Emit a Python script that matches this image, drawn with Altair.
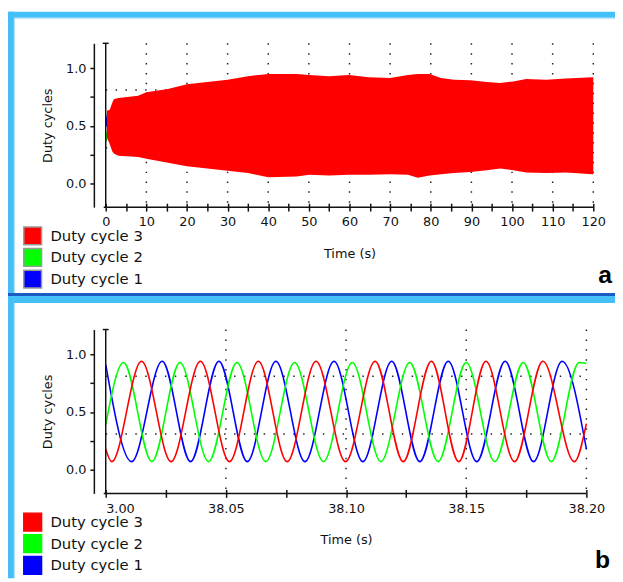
import altair as alt
import pandas as pd

# ------------------------------------------------------------------ data
SERIES = ["Duty cycle 3", "Duty cycle 2", "Duty cycle 1"]
SERIES_COLORS = ["#ff0000", "#00ff00", "#0000ff"]

# panel a: envelope of the (dense) duty-cycle oscillation, 0-120 s
a_t = [0.3, 1.0, 1.6, 2.0, 3.1, 8, 10, 15.3, 20, 25, 30, 35, 40, 47,
       50.1, 55, 59.8, 64.7, 70, 74.4, 76.8, 79.7, 82.5, 85.7,
       89.8, 93.8, 97.1, 100.3, 103.5, 108.4, 113.3, 119.8, 120]
a_hi = [0.63, 0.64, 0.70, 0.73, 0.74, 0.76, 0.79, 0.82, 0.86, 0.88, 0.90, 0.93, 0.95, 0.95,
        0.94, 0.93, 0.94, 0.92, 0.915, 0.94, 0.95, 0.95, 0.915, 0.90,
        0.895, 0.88, 0.87, 0.885, 0.905, 0.90, 0.91, 0.92, 0.92]
a_lo = [0.40, 0.34, 0.28, 0.26, 0.24, 0.23, 0.215, 0.18, 0.15, 0.13, 0.11, 0.09, 0.055, 0.06,
        0.075, 0.07, 0.075, 0.075, 0.08, 0.075, 0.05, 0.07, 0.08, 0.09,
        0.10, 0.115, 0.13, 0.115, 0.095, 0.09, 0.095, 0.08, 0.08]
a_blue_t = [0.0, 0.3, 0.7]
a_blue_hi = [0.56, 0.60, 0.63]
a_blue_lo = [0.48, 0.50, 0.54]
a_green_t = [0.0, 0.2, 0.45]
a_green_hi = [0.45, 0.45, 0.43]
a_green_lo = [0.37, 0.36, 0.38]

# panel b: zoom 38.00-38.20 s (extremes)
b_red_t = [38.0, 38.0025, 38.0149, 38.0272, 38.0394, 38.0515, 38.0635, 38.0755, 38.0875,
           38.0998, 38.1121, 38.1238, 38.1355, 38.1469, 38.1582, 38.1701, 38.1819, 38.1950, 38.2]
b_red_v = [0.18, 0.07, 0.94, 0.07, 0.94, 0.07, 0.94, 0.07, 0.94,
           0.07, 0.94, 0.07, 0.94, 0.07, 0.94, 0.07, 0.94, 0.07, 0.40]
b_green_t = [38.0, 38.0074, 38.0192, 38.0309, 38.0428, 38.0546, 38.0666, 38.0786, 38.0906,
             38.1026, 38.1145, 38.1265, 38.1383, 38.1500, 38.1619, 38.1737, 38.1854, 38.1970, 38.2]
b_green_v = [0.39, 0.93, 0.07, 0.93, 0.07, 0.93, 0.07, 0.93, 0.07,
             0.93, 0.07, 0.93, 0.07, 0.93, 0.07, 0.93, 0.07, 0.93, 0.92]
b_blue_t = [38.0, 38.0108, 38.0235, 38.0353, 38.0471, 38.0589, 38.0708, 38.0829, 38.0950,
            38.1070, 38.1190, 38.1307, 38.1425, 38.1544, 38.1662, 38.1780, 38.1899, 38.2]
b_blue_v = [0.91, 0.07, 0.94, 0.07, 0.94, 0.07, 0.94, 0.07, 0.94,
            0.07, 0.94, 0.07, 0.94, 0.07, 0.94, 0.07, 0.94, 0.18]

# axes / ticks
a_xticks = [0, 5, 10, 15, 20, 25, 30, 35, 40, 45, 50, 55, 60, 65, 70, 75, 80, 85, 90,
            95, 100, 105, 110, 115, 120]
a_xlabel_vals = [0, 10, 20, 30, 40, 50, 60, 70, 80, 90, 100, 110, 120]
a_xlabels = ["0", "10", "20", "30", "40", "50", "60", "70", "80", "90", "100", "110", "120"]
a_grid_x = [10, 20, 30, 40, 50, 60, 70, 80, 90, 100, 110, 120]

b_xticks = [38.0, 38.025, 38.05, 38.075, 38.1, 38.125, 38.15, 38.175, 38.2]
b_xlabel_vals = [38.0, 38.05, 38.1, 38.15, 38.2]
b_xlabels = ["3.00", "38.05", "38.10", "38.15", "38.20"]
b_grid_x = [38.05, 38.1, 38.15, 38.2]

y_ticks = [0.0, 0.25, 0.5, 0.75, 1.0]
y_label_vals = [0.0, 0.5, 1.0]
y_labels = ["0.0", "0.5", "1.0"]
grid_y = [0.81, 0.31]

# ------------------------------------------------------------------ styling
FONT = "DejaVu Sans"
INK = "#111111"
DOT = "#222222"
LIGHT = "#45BFF8"
PALE = "#A8DEFA"
DARK = "#1A5CC4"
H = 166
Y_DOMAIN = [-0.205, 1.215]


def label_expr(vals, labs):
    expr = "''"
    for v, l in reversed(list(zip(vals, labs))):
        expr = f"abs(datum.value - ({v})) < 1e-6 ? '{l}' : ({expr})"
    return expr


one = pd.DataFrame({"k": [0]})
cscale = alt.Scale(domain=SERIES, range=SERIES_COLORS)


def legend_layer(X, Y):
    empty = pd.DataFrame({"series": pd.Series([], dtype=str),
                          "t": pd.Series([], dtype=float),
                          "v": pd.Series([], dtype=float)})
    leg = alt.Legend(orient="none", legendX=-84, legendY=185, title=None,
                     symbolType="square", symbolSize=324,
                     symbolStrokeColor="#9a9a9a", symbolStrokeWidth=1.5,
                     symbolOpacity=1, labelFont=FONT, labelFontSize=15,
                     labelColor=INK, labelOffset=8, rowPadding=-3.5, padding=0)
    return alt.Chart(empty).mark_square(filled=True, opacity=1,
                                        stroke="#9a9a9a", strokeWidth=1.5).encode(
        x=X, y=Y, color=alt.Color("series:N", scale=cscale, legend=leg))


def frame_rect(x1, x2, y1, y2, color):
    return alt.Chart(one).mark_rect(color=color).encode(
        x=alt.value(x1), x2=alt.value(x2), y=alt.value(y1), y2=alt.value(y2))


def panel(xdom, W, xticks, xl_vals, xl_labs, grid_x, data_layers_fn, letter,
          letter_xy, first_left=False, frame=False):
    xscale = alt.Scale(domain=xdom, nice=False, zero=False)
    yscale = alt.Scale(domain=Y_DOMAIN, nice=False, zero=False)
    if first_left:
        lab_align = {"condition": {"test": f"datum.value <= {xdom[0] + 1e-6}",
                                   "value": "left"}, "value": "center"}
    else:
        lab_align = "center"
    xaxis = alt.Axis(values=xticks, labelExpr=label_expr(xl_vals, xl_labs),
                     offset=-4, domain=False, ticks=True, tickSize=8, tickWidth=1.5,
                     tickColor=INK, labelFont=FONT, labelFontSize=13, labelColor=INK,
                     labelPadding=5, labelFlush=False, labelOverlap=False,
                     labelAlign=lab_align, grid=False, title="Time (s)",
                     titleFont=FONT, titleFontSize=13, titleFontWeight="normal",
                     titleColor=INK, titleX=W / 2, titleY=55,
                     titleBaseline="alphabetic", titleAlign="center", zindex=1)
    yaxis = alt.Axis(values=y_ticks, labelExpr=label_expr(y_label_vals, y_labels),
                     offset=12, domain=True, domainColor=INK, domainWidth=1.5,
                     tickSize=4, tickWidth=1.5, tickColor=INK, labelFont=FONT,
                     labelFontSize=13, labelColor=INK, labelPadding=4, grid=False,
                     title="Duty cycles", titleFont=FONT, titleFontSize=13,
                     titleFontWeight="normal", titleColor=INK, titleX=-47,
                     titleY=H / 2, titleAngle=-90, titleBaseline="middle",
                     titleAlign="center", zindex=1)
    X = alt.X("t:Q", scale=xscale, axis=xaxis, title="Time (s)")
    Y = alt.Y("v:Q", scale=yscale, axis=yaxis, title="Duty cycles")

    layers = []
    if frame:
        layers += [
            frame_rect(-99, 516, -32, -26, LIGHT),
            frame_rect(-93, 516, -26, -25, PALE),
            frame_rect(-99, -93, -32, 542, LIGHT),
            frame_rect(-93, -92, -26, 253, PALE),
            frame_rect(-93, -92, 263, 542, PALE),
            frame_rect(-99, 516, 253, 256, DARK),
            frame_rect(-93, 516, 256, 263, LIGHT),
        ]
    # legend carrier first, so its (enabled) legend wins the layer merge
    layers.append(legend_layer(X, Y))
    layers.append(alt.Chart(pd.DataFrame({"t": grid_x})).mark_rule(
        color=DOT, strokeWidth=1.5, strokeDash=[1.5, 8.5]).encode(
        x=X, y=alt.value(0), y2=alt.value(H)))
    layers.append(alt.Chart(pd.DataFrame({"v": grid_y})).mark_rule(
        color=DOT, strokeWidth=1.5, strokeDash=[1.5, 8.5]).encode(
        y=Y, x=alt.value(0), x2=alt.value(W)))
    layers += data_layers_fn(X, Y, yscale, yaxis)
    layers.append(alt.Chart(one).mark_rule(color=INK, strokeWidth=1.5).encode(
        x=alt.value(0), y=alt.value(0), y2=alt.value(H)))
    layers.append(alt.Chart(one).mark_rule(color=INK, strokeWidth=1.5).encode(
        x=alt.value(-3), x2=alt.value(3), y=alt.value(0)))
    layers.append(alt.Chart(one).mark_rule(color=INK, strokeWidth=1.5).encode(
        x=alt.value(-2), x2=alt.value(W), y=alt.value(H)))
    layers.append(alt.Chart(one).mark_text(
        text=letter, font="Liberation Sans", fontSize=25, fontWeight="bold",
        align="right", baseline="alphabetic", color="#000000").encode(
        x=alt.value(letter_xy[0]), y=alt.value(letter_xy[1])))
    return alt.layer(*layers).properties(width=W, height=H)


def a_layers(X, Y, yscale, yaxis):
    out = []
    specs = [("Duty cycle 1", a_blue_t, a_blue_hi, a_blue_lo),
             ("Duty cycle 2", a_green_t, a_green_hi, a_green_lo),
             ("Duty cycle 3", a_t, a_hi, a_lo)]
    for name, t, hi, lo in specs:
        df = pd.DataFrame({"t": t, "hi": hi, "lo": lo, "series": name})
        out.append(alt.Chart(df).mark_area(opacity=1, interpolate="linear").encode(
            x=X,
            y=alt.Y("hi:Q", scale=yscale, axis=yaxis, title="Duty cycles"),
            y2="lo:Q",
            color=alt.Color("series:N", scale=cscale, legend=None)))
    return out


def b_layers(X, Y, yscale, yaxis):
    out = []
    specs = [("Duty cycle 1", b_blue_t, b_blue_v),
             ("Duty cycle 2", b_green_t, b_green_v),
             ("Duty cycle 3", b_red_t, b_red_v)]
    for name, t, v in specs:
        df = pd.DataFrame({"t": t, "v": v, "series": name})
        out.append(alt.Chart(df).mark_line(interpolate="monotone", strokeWidth=1.6).encode(
            x=X, y=Y, color=alt.Color("series:N", scale=cscale, legend=None)))
    return out


top = panel([0, 120], 494, a_xticks, a_xlabel_vals, a_xlabels, a_grid_x,
            a_layers, "a", (513, 243), first_left=False, frame=True)
bottom = panel([38.0, 38.2], 487, b_xticks, b_xlabel_vals, b_xlabels, b_grid_x,
               b_layers, "b", (511, 242), first_left=True, frame=False)

chart = alt.vconcat(top, bottom, spacing=124, bounds="flush").resolve_scale(
    color="independent", x="independent", y="independent"
).resolve_legend(color="independent").properties(
    padding=0, background="white"
).configure_view(stroke=None)

chart.save("out.html", embed_options={"renderer": "svg", "actions": False})
